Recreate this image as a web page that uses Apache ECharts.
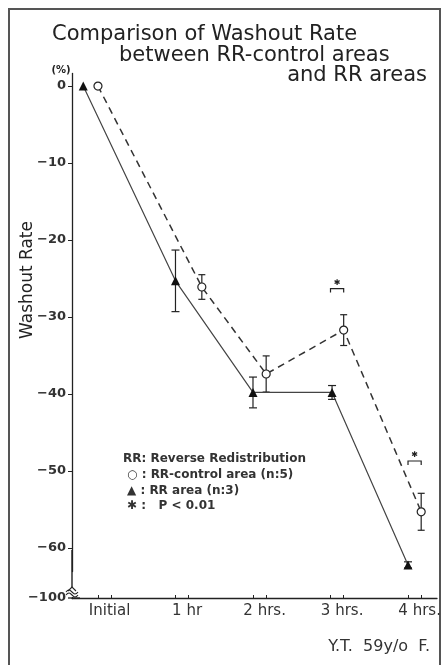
<!DOCTYPE html>
<html><head><meta charset="utf-8">
<script src="https://cdn.jsdelivr.net/npm/echarts@6/dist/echarts.min.js"></script>
<style>html,body{margin:0;padding:0;background:#fff}#c{width:444px;height:665px}</style>
</head><body><div id="c"></div>
<script>
// ---- data ----
const categories = ['Initial', '1 hr', '2 hrs.', '3 hrs.', '4 hrs.'];
const catPos = [0, 1, 2, 3, 4];
const yTickValues = [0, -10, -20, -30, -40, -50, -60, -100];
const controlX = [0, 1.34, 2.17, 3.17, 4.17];
const controlMean = [0, -26.1, -37.4, -31.7, -55.3];
const controlErr = [0, 1.6, 2.35, 2.0, 2.4];
const rrX = [-0.19, 1.0, 2.0, 3.02, 4.0];
const rrMean = [0, -25.3, -39.8, -39.8, -62.2];
const rrErr = [0, 4.0, 2.0, 0.9, 0.4];
const sigFrom = [3.0, 4.0];
const sigTo = [3.17, 4.17];
const sigY = [-26.3, -48.7];

// ---- layout / style ----
const FONT = '"DejaVu Sans", sans-serif';
const INK = '#222';
const pairOffset = 0.167;
const xTicks = [];
catPos.forEach(p => { xTicks.push(p, p + pairOffset); });
const labelPos = catPos.map(p => p + 0.15);

function errRender(capHalf) {
  return function (params, api) {
    const x = api.value(0), lo = api.value(1), hi = api.value(2);
    const a = api.coord([x, lo]), b = api.coord([x, hi]);
    const st = { stroke: INK, lineWidth: 1.2, fill: null };
    return { type: 'group', children: [
      { type: 'line', shape: { x1: a[0], y1: a[1], x2: b[0], y2: b[1] }, style: st },
      { type: 'line', shape: { x1: a[0] - capHalf, y1: a[1], x2: a[0] + capHalf, y2: a[1] }, style: st },
      { type: 'line', shape: { x1: b[0] - capHalf, y1: b[1], x2: b[0] + capHalf, y2: b[1] }, style: st }
    ]};
  };
}
function errData(xs, m, e) {
  const out = [];
  xs.forEach((x, i) => { if (e[i] > 0) out.push([x, m[i] - e[i], m[i] + e[i]]); });
  return out;
}

const chart = echarts.init(document.getElementById('c'), null, { renderer: 'canvas' });
chart.setOption({
  animation: false,
  backgroundColor: '#fff',
  grid: { left: 72, right: 7, top: 73, bottom: 67, containLabel: false },
  xAxis: {
    type: 'value', min: -0.335, max: 4.374,
    axisLine: { show: true, onZero: false, lineStyle: { color: INK, width: 1.3 } },
    axisTick: { show: true, inside: true, length: 3, customValues: xTicks, lineStyle: { color: INK } },
    axisLabel: {
      customValues: labelPos, margin: 6,
      formatter: v => categories[Math.round(v - 0.15)],
      fontFamily: FONT, fontSize: 15, color: '#333'
    },
    splitLine: { show: false }
  },
  yAxis: {
    type: 'value', min: -100, max: 1.7,
    breaks: [{ start: -99, end: -63, gap: 2.5 }],
    breakArea: { show: false },
    axisLine: { show: true, onZero: false, lineStyle: { color: INK, width: 1.3 } },
    axisTick: { show: true, length: 4, customValues: yTickValues.filter(v => v > -100), lineStyle: { color: INK } },
    axisLabel: {
      customValues: yTickValues, margin: 6,
      formatter: v => String(v).replace('-', '\u2212'),
      fontFamily: FONT, fontSize: 13, fontWeight: 'bold', color: '#333'
    },
    splitLine: { show: false }
  },
  series: [
    { type: 'custom', renderItem: errRender(3.5), data: errData(controlX, controlMean, controlErr), z: 2, silent: true },
    { type: 'custom', renderItem: errRender(4), data: errData(rrX, rrMean, rrErr), z: 2, silent: true },
    {
      name: 'RR-control area', type: 'line', z: 5,
      data: controlX.map((x, i) => [x, controlMean[i]]),
      symbol: 'circle', symbolSize: 8,
      itemStyle: { color: '#fff', borderColor: INK, borderWidth: 1.2 },
      lineStyle: { color: '#333', width: 1.5, type: [7, 5] }
    },
    {
      name: 'RR area', type: 'line', z: 5,
      data: rrX.map((x, i) => [x, rrMean[i]]),
      symbol: 'triangle', symbolSize: 9,
      itemStyle: { color: '#111' },
      lineStyle: { color: '#444', width: 1.2 }
    },
    {
      type: 'custom', z: 4, silent: true,
      data: sigFrom.map((f, i) => [f, sigTo[i], sigY[i]]),
      renderItem: function (params, api) {
        const a = api.coord([api.value(0), api.value(2)]);
        const b = api.coord([api.value(1), api.value(2)]);
        return { type: 'group', children: [
          { type: 'polyline', shape: { points: [[a[0], a[1] + 4], [a[0], a[1]], [b[0], b[1]], [b[0], b[1] + 4]] },
            style: { stroke: INK, lineWidth: 1.2, fill: null } },
          { type: 'text', style: { text: '✱', x: (a[0] + b[0]) / 2, y: a[1] - 6, align: 'center', verticalAlign: 'middle',
            font: 'bold 8px ' + FONT, fill: INK } }
        ]};
      }
    }
  ],
  graphic: [
    { type: 'rect', shape: { x: 9, y: 9, width: 431, height: 665 }, style: { fill: null, stroke: '#555', lineWidth: 2 }, silent: true },
    { type: 'text', style: { text: 'Comparison of Washout Rate', x: 52, y: 35, verticalAlign: 'middle', font: '21px ' + FONT, fill: INK } },
    { type: 'text', style: { text: 'between RR-control areas', x: 119, y: 56, verticalAlign: 'middle', font: '21px ' + FONT, fill: INK } },
    { type: 'text', style: { text: 'and RR areas', x: 427, y: 76, align: 'right', verticalAlign: 'middle', font: '21px ' + FONT, fill: INK } },
    { type: 'text', style: { text: '(%)', x: 61, y: 70, align: 'center', verticalAlign: 'middle', font: 'bold 10px ' + FONT, fill: INK } },
    { type: 'text', rotation: Math.PI / 2, x: 28, y: 280,
      style: { text: 'Washout Rate', x: 0, y: 0, align: 'center', verticalAlign: 'middle', font: '17px ' + FONT, fill: INK } },
    // axis break mark
    { type: 'polyline', shape: { points: [[72, 550], [72, 587]] }, style: { fill: null, stroke: INK, lineWidth: 1.4 }, z: 300 },
    { type: 'rect', shape: { x: 67, y: 588, width: 11, height: 9 }, style: { fill: '#fff' }, z: 300 },
    { type: 'polyline', shape: { points: [[68, 591], [72, 587], [76, 591]] }, style: { fill: null, stroke: INK, lineWidth: 1.1 }, z: 301 },
    { type: 'polyline', shape: { points: [[66, 592], [69, 590], [72, 592], [75, 594], [78, 592]], smooth: 0.5 }, style: { fill: null, stroke: INK, lineWidth: 1.1 }, z: 301 },
    { type: 'polyline', shape: { points: [[66, 595], [69, 593], [72, 595], [75, 597], [78, 595]], smooth: 0.5 }, style: { fill: null, stroke: INK, lineWidth: 1.1 }, z: 301 },
    { type: 'polyline', shape: { points: [[68, 598], [80, 598]] }, style: { fill: null, stroke: INK, lineWidth: 1.3 }, z: 301 },
    // legend
    { type: 'text', style: { text: 'RR: Reverse Redistribution', x: 123, y: 459, verticalAlign: 'middle', font: 'bold 12px ' + FONT, fill: '#333' } },
    { type: 'text', style: { text: '○ : RR-control area (n:5)', x: 127, y: 475, verticalAlign: 'middle', font: 'bold 12px ' + FONT, fill: '#333' } },
    { type: 'text', style: { text: '▲ : RR area (n:3)', x: 127, y: 491, verticalAlign: 'middle', font: 'bold 12px ' + FONT, fill: '#333' } },
    { type: 'text', style: { text: '✱ :   P < 0.01', x: 127, y: 506, verticalAlign: 'middle', font: 'bold 12px ' + FONT, fill: '#333' } },
    { type: 'text', style: { text: 'Y.T.  59y/o  F.', x: 430, y: 647, align: 'right', verticalAlign: 'middle', font: '16px ' + FONT, fill: '#333' } }
  ]
});
</script></body></html>
